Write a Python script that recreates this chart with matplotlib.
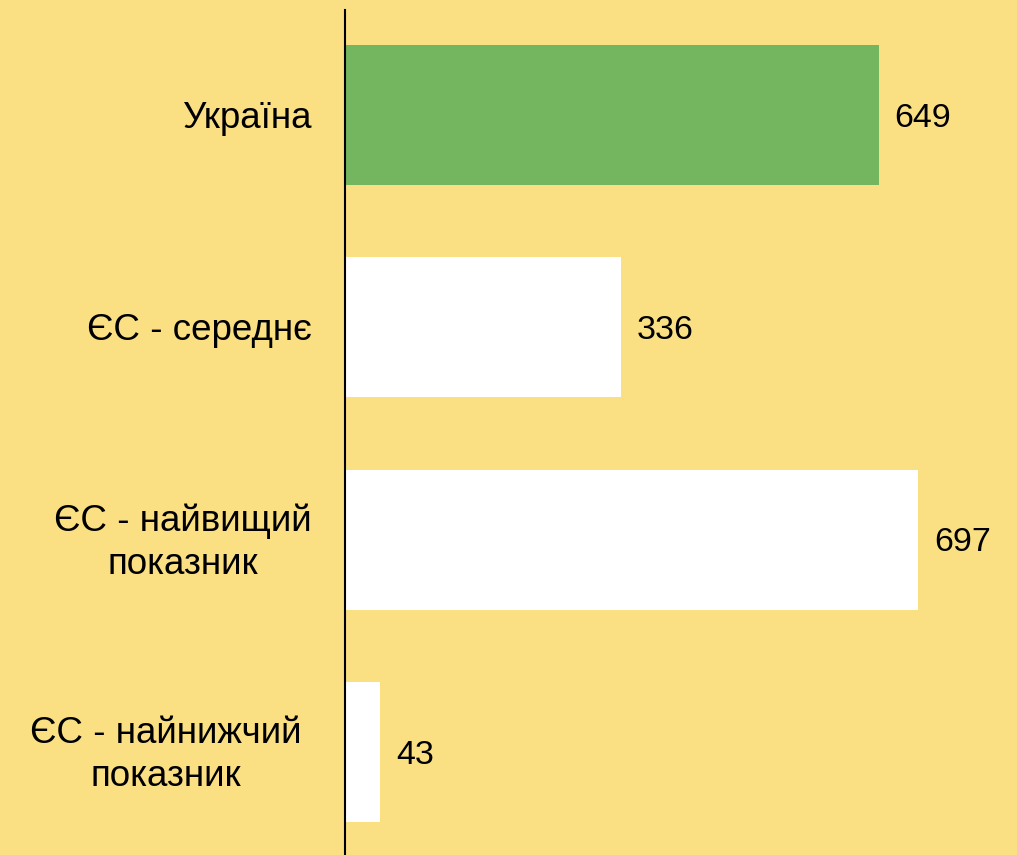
import matplotlib.pyplot as plt
import matplotlib.transforms as mtransforms

plt.rcParams['font.family'] = ['Liberation Sans', 'DejaVu Sans']

categories = ['Україна', 'ЄС - середнє', 'ЄС - найвищий\nпоказник', 'ЄС - найнижчий\nпоказник']
values = [649, 336, 697, 43]
colors = ['#74B660', 'white', 'white', 'white']
label_offsets = [0, 0, 0, 10]  # px shift left for the wider last label

bg = '#FAE083'
fig = plt.figure(figsize=(10.17, 8.55), dpi=100, facecolor=bg)
ax = fig.add_axes([345/1017, 0, 1 - 345/1017, 845/855])
ax.set_facecolor(bg)

ax.barh(range(len(values)), values, height=0.66, color=colors)
ax.set_xlim(0, 817)
ax.set_ylim(3.485, -0.495)

for s in ['top', 'right', 'bottom']:
    ax.spines[s].set_visible(False)
ax.spines['left'].set_color('black')
ax.spines['left'].set_linewidth(1.5)
ax.set_xticks([])
ax.set_yticks([])

down = mtransforms.ScaledTranslation(0, -3 / 100, fig.dpi_scale_trans)
for i, v in enumerate(values):
    ax.text(v + 19, i, str(v), va='center', ha='left', fontsize=24.5,
            transform=ax.transData + down)

trans = mtransforms.blended_transform_factory(ax.transAxes, ax.transData)
for i, lab in enumerate(categories):
    off = mtransforms.ScaledTranslation(-(33 + label_offsets[i]) / 100, -3 / 100, fig.dpi_scale_trans)
    ax.text(0, i, lab, transform=trans + off, ha='right', va='center',
            multialignment='center', fontsize=26.5, linespacing=1.3)

plt.savefig('out.png', dpi=100, facecolor=bg)
